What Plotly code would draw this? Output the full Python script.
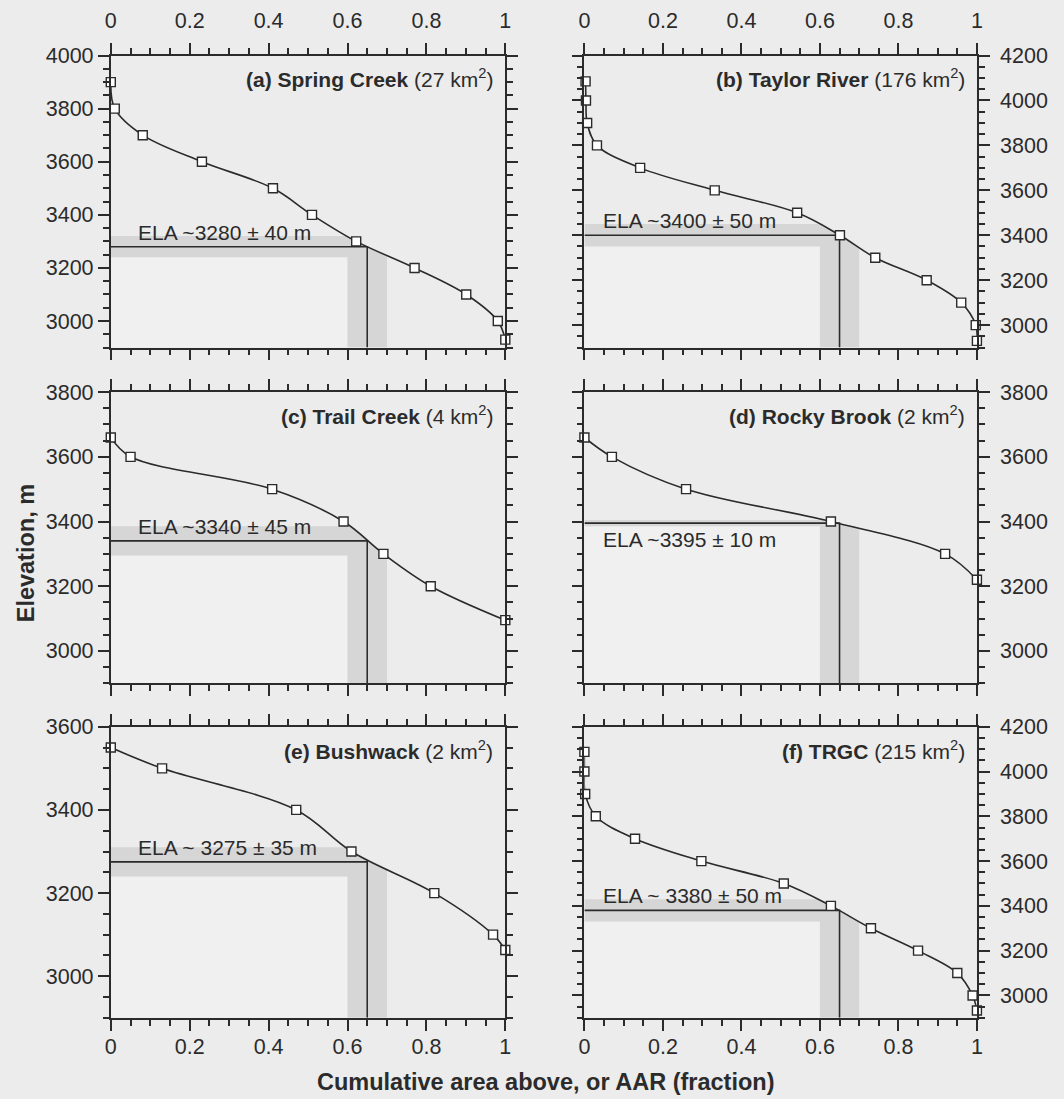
import plotly.graph_objects as go

# ---------------- data ----------------
a_x = [0.0, 0.01, 0.081, 0.231, 0.411, 0.51, 0.622, 0.77, 0.901, 0.981, 1.0]
a_y = [3900, 3800, 3700, 3600, 3500, 3400, 3300, 3200, 3100, 3000, 2930]

b_x = [0.003, 0.004, 0.007, 0.032, 0.142, 0.332, 0.542, 0.651, 0.741, 0.872, 0.96, 0.997, 1.0]
b_y = [4085, 4000, 3900, 3800, 3700, 3600, 3500, 3400, 3300, 3200, 3100, 3000, 2930]

c_x = [0.0, 0.05, 0.409, 0.59, 0.691, 0.811, 1.0]
c_y = [3660, 3600, 3500, 3400, 3300, 3200, 3095]

d_x = [0.0, 0.07, 0.259, 0.628, 0.919, 1.0]
d_y = [3660, 3600, 3500, 3400, 3300, 3220]

e_x = [0.0, 0.13, 0.47, 0.61, 0.82, 0.969, 1.0]
e_y = [3550, 3500, 3400, 3300, 3200, 3100, 3063]

f_x = [0.0, 0.0, 0.002, 0.029, 0.129, 0.298, 0.508, 0.628, 0.73, 0.85, 0.95, 0.989, 1.0]
f_y = [4088, 4000, 3900, 3800, 3700, 3600, 3500, 3400, 3300, 3200, 3100, 3000, 2933]

panel_letters = ["(a)", "(b)", "(c)", "(d)", "(e)", "(f)"]
panel_names = ["Spring Creek", "Taylor River", "Trail Creek", "Rocky Brook", "Bushwack", "TRGC"]
panel_areas = [27, 176, 4, 2, 2, 215]

ela_values = [3280, 3400, 3340, 3395, 3275, 3380]
ela_errors = [40, 50, 45, 10, 35, 50]
ela_labels = ["ELA ~3280 \u00b1 40 m", "ELA ~3400 \u00b1 50 m", "ELA ~3340 \u00b1 45 m",
              "ELA ~3395 \u00b1 10 m", "ELA ~ 3275 \u00b1 35 m", "ELA ~ 3380 \u00b1 50 m"]
aar_value = 0.65
aar_low, aar_high = 0.6, 0.7

y_min = [2900, 2900, 2900, 2900, 2900, 2900]
y_max = [4000, 4200, 3800, 3800, 3600, 4200]

x_tick_vals = [0, 0.2, 0.4, 0.6, 0.8, 1]
x_tick_text = ["0", "0.2", "0.4", "0.6", "0.8", "1"]

xs = [a_x, b_x, c_x, d_x, e_x, f_x]
ys = [a_y, b_y, c_y, d_y, e_y, f_y]

# ---------------- styling / layout ----------------
W, H = 1064, 1099
BG = "#ececec"
BAND = "#d6d6d6"
LIGHT = "#f0f0f0"
INK = "#2b2b2b"
FONT = "Liberation Sans, Arial, sans-serif"

col_px = [(106, 505), (585, 982)]
row_px = [(45, 340), (385, 679), (723, 1017)]
label_x = [0.065, 0.042, 0.065, 0.042, 0.065, 0.042]
label_below = [False, False, False, True, False, False]

fig = go.Figure()
shapes = []
annotations = []
layout_axes = {}

for i in range(6):
    r, c = divmod(i, 2)
    xn = "x" if i == 0 else f"x{i+1}"
    yn = "y" if i == 0 else f"y{i+1}"
    xkey = "xaxis" if i == 0 else f"xaxis{i+1}"
    ykey = "yaxis" if i == 0 else f"yaxis{i+1}"
    x0p, x1p = col_px[c]
    y0p, y1p = row_px[r]
    xdom = [x0p / W, x1p / W]
    ydom = [1 - y1p / H, 1 - y0p / H]

    ela, err = ela_values[i], ela_errors[i]
    ylo, yhi = y_min[i], y_max[i]

    # shading (below traces)
    shapes.append(dict(type="rect", xref=xn, yref=yn, x0=0, x1=aar_low, y0=ylo, y1=ela - err,
                       fillcolor=LIGHT, line_width=0, layer="below"))
    shapes.append(dict(type="rect", xref=xn, yref=yn, x0=0, x1=aar_high, y0=ela - err, y1=ela + err,
                       fillcolor=BAND, line_width=0, layer="below"))
    shapes.append(dict(type="rect", xref=xn, yref=yn, x0=aar_low, x1=aar_high, y0=ylo, y1=ela + err,
                       fillcolor=BAND, line_width=0, layer="below"))

    # mask above the curve (background colour) so shading stays under the curve
    fig.add_trace(go.Scatter(x=[0, 1], y=[yhi, yhi], mode="lines", line=dict(width=0, color=BG),
                             xaxis=xn, yaxis=yn, showlegend=False, hoverinfo="skip"))
    fig.add_trace(go.Scatter(x=xs[i], y=ys[i], mode="lines",
                             line=dict(color=INK, width=1.6, shape="spline"),
                             fill="tonexty", fillcolor=BG,
                             xaxis=xn, yaxis=yn, showlegend=False, hoverinfo="skip"))
    # ELA guide lines
    fig.add_trace(go.Scatter(x=[0, aar_value, aar_value], y=[ela, ela, ylo], mode="lines",
                             line=dict(color=INK, width=1.6),
                             xaxis=xn, yaxis=yn, showlegend=False, hoverinfo="skip"))
    # markers
    fig.add_trace(go.Scatter(x=xs[i], y=ys[i], mode="markers",
                             marker=dict(symbol="square", size=9, color="white",
                                         line=dict(color=INK, width=1.4)),
                             cliponaxis=False,
                             xaxis=xn, yaxis=yn, showlegend=False, hoverinfo="skip"))

    # panel title
    annotations.append(dict(
        xref=f"{xn} domain", yref=f"{yn} domain", x=0.975, y=1 - 23 / (y1p - y0p),
        xanchor="right", yanchor="middle", showarrow=False,
        text=f"<b>{panel_letters[i]} {panel_names[i]}</b> ({panel_areas[i]} km<sup>2</sup>)",
        font=dict(family=FONT, size=21, color=INK)))
    # ELA label
    annotations.append(dict(
        xref=xn, yref=yn, x=label_x[i], y=ela,
        xanchor="left", yanchor="top" if label_below[i] else "bottom",
        yshift=-3 if label_below[i] else 1, showarrow=False,
        text=ela_labels[i], font=dict(family=FONT, size=21, color=INK)))

    tick_common = dict(ticks="outside", ticklen=11, tickwidth=1.8, tickcolor=INK,
                       showline=True, linecolor=INK, linewidth=1.8, mirror="ticks",
                       showgrid=False, zeroline=False,
                       tickfont=dict(family=FONT, size=21.5, color=INK))
    layout_axes[xkey] = dict(
        domain=xdom, anchor=yn, range=[0, 1],
        tickvals=x_tick_vals, ticktext=x_tick_text,
        side="top" if r == 0 else "bottom",
        showticklabels=(r != 1),
        ticklabelstandoff=6 if r == 0 else -3,
        minor=dict(dtick=0.05, tick0=0, ticklen=6, tickwidth=1.8, tickcolor=INK,
                   ticks="outside", showgrid=False),
        **tick_common)
    layout_axes[ykey] = dict(
        domain=ydom, anchor=xn, range=[ylo, yhi],
        dtick=200, tick0=0,
        side="left" if c == 0 else "right",
        ticklabelstandoff=0 if c == 0 else 6,
        minor=dict(dtick=50, tick0=0, ticklen=6, tickwidth=1.8, tickcolor=INK,
                   ticks="outside", showgrid=False),
        **tick_common)

annotations.append(dict(xref="paper", yref="paper", x=20 / W, y=1 - 548 / H,
                        xanchor="center", yanchor="middle", textangle=-90, showarrow=False,
                        text="<b>Elevation, m</b>", font=dict(family=FONT, size=23.5, color=INK)))
annotations.append(dict(xref="paper", yref="paper", x=546 / W, y=1 - 1082 / H,
                        xanchor="center", yanchor="middle", showarrow=False,
                        text="<b>Cumulative area above, or AAR (fraction)</b>",
                        font=dict(family=FONT, size=23.5, color=INK)))

fig.update_layout(
    width=W, height=H,
    margin=dict(l=0, r=0, t=0, b=0),
    paper_bgcolor=BG, plot_bgcolor=BG,
    shapes=shapes, annotations=annotations,
    showlegend=False,
    font=dict(family=FONT, color=INK),
    **layout_axes)

fig.write_html("out.html", config={"displayModeBar": False},
               post_script="document.body.style.margin='0px';")
